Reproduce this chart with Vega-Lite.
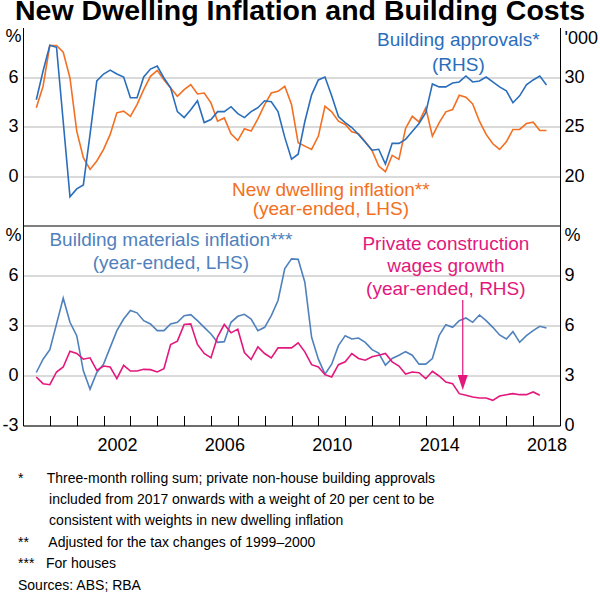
{
  "$schema": "https://vega.github.io/schema/vega-lite/v6.json",
  "padding": {"left": 1, "top": -3.5, "right": 0, "bottom": 0},
  "spacing": 0,
  "title": {"text": "New Dwelling Inflation and Building Costs", "fontSize": 28.5, "fontWeight": "bold", "font": "Liberation Sans", "anchor": "middle", "frame": "group", "baseline": "alphabetic", "offset": -20.5, "dx": 8.5, "color": "black"},
  "datasets": {
    "top": [
      {"date": "1999-07-01", "inflation": 4.13, "approvals": 27.7},
      {"date": "1999-10-01", "inflation": 5.44, "approvals": 30.6},
      {"date": "2000-01-01", "inflation": 7.91, "approvals": 33.2},
      {"date": "2000-04-01", "inflation": 7.91, "approvals": 33.0},
      {"date": "2000-07-01", "inflation": 7.51, "approvals": 25.5},
      {"date": "2000-10-01", "inflation": 5.94, "approvals": 17.9},
      {"date": "2001-01-01", "inflation": 2.72, "approvals": 18.7},
      {"date": "2001-04-01", "inflation": 1.11, "approvals": 19.1},
      {"date": "2001-07-01", "inflation": 0.40, "approvals": 24.2},
      {"date": "2001-10-01", "inflation": 0.91, "approvals": 29.6},
      {"date": "2002-01-01", "inflation": 1.61, "approvals": 30.3},
      {"date": "2002-04-01", "inflation": 2.52, "approvals": 30.7},
      {"date": "2002-07-01", "inflation": 3.83, "approvals": 30.3},
      {"date": "2002-10-01", "inflation": 3.93, "approvals": 30.0},
      {"date": "2003-01-01", "inflation": 3.62, "approvals": 27.9},
      {"date": "2003-04-01", "inflation": 4.33, "approvals": 27.9},
      {"date": "2003-07-01", "inflation": 5.23, "approvals": 30.0},
      {"date": "2003-10-01", "inflation": 6.04, "approvals": 30.8},
      {"date": "2004-01-01", "inflation": 6.40, "approvals": 31.1},
      {"date": "2004-04-01", "inflation": 5.84, "approvals": 29.9},
      {"date": "2004-07-01", "inflation": 5.34, "approvals": 28.9},
      {"date": "2004-10-01", "inflation": 4.83, "approvals": 26.5},
      {"date": "2005-01-01", "inflation": 5.23, "approvals": 25.9},
      {"date": "2005-04-01", "inflation": 5.54, "approvals": 26.7},
      {"date": "2005-07-01", "inflation": 4.97, "approvals": 27.6},
      {"date": "2005-10-01", "inflation": 5.03, "approvals": 25.4},
      {"date": "2006-01-01", "inflation": 4.43, "approvals": 25.7},
      {"date": "2006-04-01", "inflation": 3.32, "approvals": 26.5},
      {"date": "2006-07-01", "inflation": 3.52, "approvals": 26.5},
      {"date": "2006-10-01", "inflation": 2.56, "approvals": 27.0},
      {"date": "2007-01-01", "inflation": 2.15, "approvals": 26.3},
      {"date": "2007-04-01", "inflation": 2.86, "approvals": 25.9},
      {"date": "2007-07-01", "inflation": 2.72, "approvals": 26.5},
      {"date": "2007-10-01", "inflation": 3.46, "approvals": 26.9},
      {"date": "2008-01-01", "inflation": 4.33, "approvals": 27.6},
      {"date": "2008-04-01", "inflation": 5.03, "approvals": 27.5},
      {"date": "2008-07-01", "inflation": 5.13, "approvals": 26.5},
      {"date": "2008-10-01", "inflation": 5.44, "approvals": 23.9},
      {"date": "2009-01-01", "inflation": 4.33, "approvals": 21.7},
      {"date": "2009-04-01", "inflation": 2.01, "approvals": 22.2},
      {"date": "2009-07-01", "inflation": 1.81, "approvals": 25.5},
      {"date": "2009-10-01", "inflation": 1.61, "approvals": 28.2},
      {"date": "2010-01-01", "inflation": 2.42, "approvals": 29.7},
      {"date": "2010-04-01", "inflation": 4.23, "approvals": 30.0},
      {"date": "2010-07-01", "inflation": 3.89, "approvals": 28.1},
      {"date": "2010-10-01", "inflation": 3.32, "approvals": 26.0},
      {"date": "2011-01-01", "inflation": 3.12, "approvals": 25.4},
      {"date": "2011-04-01", "inflation": 2.68, "approvals": 24.9},
      {"date": "2011-07-01", "inflation": 2.56, "approvals": 24.2},
      {"date": "2011-10-01", "inflation": 2.07, "approvals": 23.4},
      {"date": "2012-01-01", "inflation": 1.55, "approvals": 22.6},
      {"date": "2012-04-01", "inflation": 0.60, "approvals": 22.7},
      {"date": "2012-07-01", "inflation": 0.26, "approvals": 21.2},
      {"date": "2012-10-01", "inflation": 1.25, "approvals": 23.3},
      {"date": "2013-01-01", "inflation": 1.01, "approvals": 23.3},
      {"date": "2013-04-01", "inflation": 2.88, "approvals": 23.7},
      {"date": "2013-07-01", "inflation": 3.62, "approvals": 24.5},
      {"date": "2013-10-01", "inflation": 3.28, "approvals": 25.3},
      {"date": "2014-01-01", "inflation": 4.13, "approvals": 26.4},
      {"date": "2014-04-01", "inflation": 2.42, "approvals": 29.3},
      {"date": "2014-07-01", "inflation": 3.22, "approvals": 29.0},
      {"date": "2014-10-01", "inflation": 3.89, "approvals": 29.0},
      {"date": "2015-01-01", "inflation": 4.03, "approvals": 29.4},
      {"date": "2015-04-01", "inflation": 4.89, "approvals": 29.5},
      {"date": "2015-07-01", "inflation": 4.77, "approvals": 30.1},
      {"date": "2015-10-01", "inflation": 4.37, "approvals": 29.5},
      {"date": "2016-01-01", "inflation": 3.32, "approvals": 29.6},
      {"date": "2016-04-01", "inflation": 2.52, "approvals": 30.0},
      {"date": "2016-07-01", "inflation": 1.95, "approvals": 29.5},
      {"date": "2016-10-01", "inflation": 1.61, "approvals": 29.0},
      {"date": "2017-01-01", "inflation": 2.07, "approvals": 28.6},
      {"date": "2017-04-01", "inflation": 2.82, "approvals": 27.4},
      {"date": "2017-07-01", "inflation": 2.82, "approvals": 28.1},
      {"date": "2017-10-01", "inflation": 3.18, "approvals": 29.2},
      {"date": "2018-01-01", "inflation": 3.26, "approvals": 29.7},
      {"date": "2018-04-01", "inflation": 2.76, "approvals": 30.1},
      {"date": "2018-07-01", "inflation": 2.76, "approvals": 29.2}
    ],
    "bottom": [
      {"date": "1999-07-01", "materials": 0.18, "wages": 2.91},
      {"date": "1999-10-01", "materials": 0.98, "wages": 2.51},
      {"date": "2000-01-01", "materials": 1.55, "wages": 2.45},
      {"date": "2000-04-01", "materials": 3.09, "wages": 3.21},
      {"date": "2000-07-01", "materials": 4.64, "wages": 3.51},
      {"date": "2000-10-01", "materials": 3.19, "wages": 4.46},
      {"date": "2001-01-01", "materials": 2.39, "wages": 4.32},
      {"date": "2001-04-01", "materials": 0.28, "wages": 3.98},
      {"date": "2001-07-01", "materials": -0.82, "wages": 4.06},
      {"date": "2001-10-01", "materials": 0.18, "wages": 3.31},
      {"date": "2002-01-01", "materials": 0.68, "wages": 3.57},
      {"date": "2002-04-01", "materials": 1.69, "wages": 3.51},
      {"date": "2002-07-01", "materials": 2.69, "wages": 2.81},
      {"date": "2002-10-01", "materials": 3.39, "wages": 3.61},
      {"date": "2003-01-01", "materials": 3.90, "wages": 3.27},
      {"date": "2003-04-01", "materials": 3.76, "wages": 3.27},
      {"date": "2003-07-01", "materials": 3.29, "wages": 3.37},
      {"date": "2003-10-01", "materials": 3.09, "wages": 3.35},
      {"date": "2004-01-01", "materials": 2.69, "wages": 3.21},
      {"date": "2004-04-01", "materials": 2.69, "wages": 3.41},
      {"date": "2004-07-01", "materials": 3.09, "wages": 4.86},
      {"date": "2004-10-01", "materials": 3.19, "wages": 5.06},
      {"date": "2005-01-01", "materials": 3.59, "wages": 6.06},
      {"date": "2005-04-01", "materials": 3.65, "wages": 6.10},
      {"date": "2005-07-01", "materials": 3.29, "wages": 4.86},
      {"date": "2005-10-01", "materials": 2.89, "wages": 4.32},
      {"date": "2006-01-01", "materials": 2.49, "wages": 4.06},
      {"date": "2006-04-01", "materials": 1.99, "wages": 5.32},
      {"date": "2006-07-01", "materials": 2.03, "wages": 6.06},
      {"date": "2006-10-01", "materials": 3.19, "wages": 5.56},
      {"date": "2007-01-01", "materials": 3.55, "wages": 5.78},
      {"date": "2007-04-01", "materials": 3.67, "wages": 4.38},
      {"date": "2007-07-01", "materials": 3.39, "wages": 3.96},
      {"date": "2007-10-01", "materials": 2.69, "wages": 4.72},
      {"date": "2008-01-01", "materials": 2.89, "wages": 4.32},
      {"date": "2008-04-01", "materials": 3.59, "wages": 4.06},
      {"date": "2008-07-01", "materials": 4.50, "wages": 4.66},
      {"date": "2008-10-01", "materials": 6.41, "wages": 4.66},
      {"date": "2009-01-01", "materials": 7.00, "wages": 4.66},
      {"date": "2009-04-01", "materials": 6.97, "wages": 4.96},
      {"date": "2009-07-01", "materials": 5.60, "wages": 4.42},
      {"date": "2009-10-01", "materials": 2.29, "wages": 3.65},
      {"date": "2010-01-01", "materials": 0.98, "wages": 3.51},
      {"date": "2010-04-01", "materials": 0.08, "wages": 3.05},
      {"date": "2010-07-01", "materials": 0.68, "wages": 2.91},
      {"date": "2010-10-01", "materials": 1.79, "wages": 3.65},
      {"date": "2011-01-01", "materials": 2.39, "wages": 3.82},
      {"date": "2011-04-01", "materials": 2.19, "wages": 4.32},
      {"date": "2011-07-01", "materials": 2.25, "wages": 4.02},
      {"date": "2011-10-01", "materials": 1.99, "wages": 3.92},
      {"date": "2012-01-01", "materials": 1.55, "wages": 4.12},
      {"date": "2012-04-01", "materials": 1.35, "wages": 4.22},
      {"date": "2012-07-01", "materials": 0.62, "wages": 4.32},
      {"date": "2012-10-01", "materials": 1.02, "wages": 3.82},
      {"date": "2013-01-01", "materials": 1.22, "wages": 3.57},
      {"date": "2013-04-01", "materials": 1.43, "wages": 3.09},
      {"date": "2013-07-01", "materials": 1.22, "wages": 3.21},
      {"date": "2013-10-01", "materials": 0.68, "wages": 3.17},
      {"date": "2014-01-01", "materials": 0.68, "wages": 2.81},
      {"date": "2014-04-01", "materials": 1.02, "wages": 3.25},
      {"date": "2014-07-01", "materials": 2.39, "wages": 2.97},
      {"date": "2014-10-01", "materials": 3.05, "wages": 2.61},
      {"date": "2015-01-01", "materials": 2.89, "wages": 2.51},
      {"date": "2015-04-01", "materials": 3.29, "wages": 1.91},
      {"date": "2015-07-01", "materials": 3.45, "wages": 1.81},
      {"date": "2015-10-01", "materials": 3.19, "wages": 1.71},
      {"date": "2016-01-01", "materials": 3.63, "wages": 1.65},
      {"date": "2016-04-01", "materials": 3.29, "wages": 1.65},
      {"date": "2016-07-01", "materials": 2.89, "wages": 1.51},
      {"date": "2016-10-01", "materials": 2.43, "wages": 1.77},
      {"date": "2017-01-01", "materials": 2.19, "wages": 1.85},
      {"date": "2017-04-01", "materials": 2.63, "wages": 1.91},
      {"date": "2017-07-01", "materials": 1.99, "wages": 1.85},
      {"date": "2017-10-01", "materials": 2.39, "wages": 1.85},
      {"date": "2018-01-01", "materials": 2.69, "wages": 2.01},
      {"date": "2018-04-01", "materials": 2.95, "wages": 1.81},
      {"date": "2018-07-01", "materials": 2.85}
    ]
  },
  "vconcat": [
    {
      "width": 537,
      "height": 198,
      "data": {"name": "top"},
      "layer": [
        {
          "layer": [
            {
              "mark": {"type": "line", "color": "#f36f21", "strokeWidth": 1.6},
              "encoding": {
                "x": {"field": "date", "type": "temporal",
                      "scale": {"type": "utc", "domain": [{"year": 1999, "month": 1, "date": 1, "utc": true}, {"year": 2019, "month": 1, "date": 1, "utc": true}]},
                      "axis": {"orient": "bottom", "labels": false, "ticks": false, "grid": false, "title": null, "domainColor": "black"}},
                "y": {"field": "inflation", "type": "quantitative",
                      "scale": {"domain": [-3, 9], "nice": false, "zero": false},
                      "axis": {"orient": "left", "values": [0, 3, 6], "grid": true, "ticks": false, "labelPadding": 5,
                               "title": "%", "titleAngle": 0, "titleX": -10, "titleY": 9, "titleAlign": "center", "titleBaseline": "middle"}}
              }
            },
            {
              "data": {"values": [{"label": "New dwelling inflation**\n(year-ended, LHS)"}]},
              "mark": {"type": "text", "color": "#f36f21", "fontSize": 19, "align": "center", "baseline": "alphabetic", "lineBreak": "\n", "lineHeight": 19.5},
              "encoding": {
                "x": {"datum": {"year": 2010, "month": 6, "date": 20, "utc": true}, "type": "temporal"},
                "y": {"datum": -1.21, "type": "quantitative"},
                "text": {"field": "label"}
              }
            },
            {
              "data": {"values": [{"label": "Building approvals*\n(RHS)"}]},
              "mark": {"type": "text", "color": "#2a6ebb", "fontSize": 19, "align": "center", "baseline": "alphabetic", "lineBreak": "\n", "lineHeight": 25},
              "encoding": {
                "x": {"datum": {"year": 2015, "month": 3, "date": 20, "utc": true}, "type": "temporal"},
                "y": {"datum": 7.85, "type": "quantitative"},
                "text": {"field": "label"}
              }
            }
          ]
        },
        {
          "layer": [
            {
              "mark": {"type": "line", "color": "#2a6ebb", "strokeWidth": 1.6},
              "encoding": {
                "x": {"field": "date", "type": "temporal"},
                "y": {"field": "approvals", "type": "quantitative",
                      "scale": {"domain": [15, 35], "nice": false, "zero": false},
                      "axis": {"orient": "right", "values": [20, 25, 30], "grid": false, "ticks": false, "labelPadding": 4,
                               "title": "'000", "titleAngle": 0, "titleX": 4, "titleY": 11, "titleAlign": "left", "titleBaseline": "middle"}}
              }
            }
          ]
        }
      ],
      "resolve": {"scale": {"y": "independent"}}
    },
    {
      "width": 537,
      "height": 200,
      "data": {"name": "bottom"},
      "title": {
        "text": [
          "*\u00a0\u00a0\u00a0\u00a0\u00a0\u00a0Three-month rolling sum; private non-house building approvals",
          "\u200b\u00a0\u00a0\u00a0\u00a0\u00a0\u00a0\u00a0\u00a0included from 2017 onwards with a weight of 20 per cent to be",
          "\u200b\u00a0\u00a0\u00a0\u00a0\u00a0\u00a0\u00a0\u00a0consistent with weights in new dwelling inflation",
          "**\u00a0\u00a0\u00a0\u00a0\u00a0Adjusted for the tax changes of 1999\u20132000",
          "***\u00a0\u00a0\u00a0For houses",
          "Sources: ABS; RBA"
        ],
        "orient": "bottom", "anchor": "start", "frame": "group", "fontSize": 14, "fontWeight": "normal", "font": "Liberation Sans",
        "lineHeight": 21.4, "baseline": "alphabetic", "offset": 28, "dx": -5, "color": "black"
      },
      "layer": [
        {
          "layer": [
            {
              "mark": {"type": "line", "color": "#4f81bd", "strokeWidth": 1.6},
              "encoding": {
                "x": {"field": "date", "type": "temporal",
                      "scale": {"type": "utc", "domain": [{"year": 1999, "month": 1, "date": 1, "utc": true}, {"year": 2019, "month": 1, "date": 1, "utc": true}]},
                      "axis": {"orient": "bottom", "tickCount": {"interval": "year", "step": 1}, "ticks": true, "tickSize": -10, "tickColor": "black",
                               "labelPadding": 21, "labelOffset": 13.4, "labelOverlap": false, "labelFlush": false, "labelBound": false,
                               "labelExpr": "utcyear(datum.value) % 4 == 2 ? utcFormat(datum.value, '%Y') : ''",
                               "grid": false, "title": null, "domainColor": "black"}},
                "y": {"field": "materials", "type": "quantitative",
                      "scale": {"domain": [-3, 9], "nice": false, "zero": false},
                      "axis": {"orient": "left", "values": [-3, 0, 3, 6], "grid": true, "ticks": false, "labelPadding": 5,
                               "labelExpr": "datum.value < 0 ? '-' + abs(datum.value) : datum.label",
                               "title": "%", "titleAngle": 0, "titleX": -10, "titleY": 9.5, "titleAlign": "center", "titleBaseline": "middle"}}
              }
            },
            {
              "data": {"values": [{"label": "Building materials inflation***\n(year-ended, LHS)"}]},
              "mark": {"type": "text", "color": "#4f81bd", "fontSize": 19, "align": "center", "baseline": "alphabetic", "lineBreak": "\n", "lineHeight": 23},
              "encoding": {
                "x": {"datum": {"year": 2004, "month": 7, "date": 5, "utc": true}, "type": "temporal"},
                "y": {"datum": 7.8, "type": "quantitative"},
                "text": {"field": "label"}
              }
            }
          ]
        },
        {
          "layer": [
            {
              "mark": {"type": "line", "color": "#e3177c", "strokeWidth": 1.6},
              "encoding": {
                "x": {"field": "date", "type": "temporal"},
                "y": {"field": "wages", "type": "quantitative",
                      "scale": {"domain": [0, 12], "nice": false, "zero": false},
                      "axis": {"orient": "right", "values": [0, 3, 6, 9], "grid": false, "ticks": false, "labelPadding": 4,
                               "title": "%", "titleAngle": 0, "titleX": 12, "titleY": 9.5, "titleAlign": "center", "titleBaseline": "middle"}}
              }
            },
            {
              "data": {"values": [{"label": "Private construction\nwages growth\n(year-ended, RHS)"}]},
              "mark": {"type": "text", "color": "#e3177c", "fontSize": 19, "align": "center", "baseline": "alphabetic", "lineBreak": "\n", "lineHeight": 22.5},
              "encoding": {
                "x": {"datum": {"year": 2014, "month": 10, "date": 1, "utc": true}, "type": "temporal"},
                "y": {"datum": 10.55, "type": "quantitative"},
                "text": {"field": "label"}
              }
            },
            {
              "data": {"values": [{"label": "arrow"}]},
              "mark": {"type": "rule", "color": "#e3177c", "strokeWidth": 1.2},
              "encoding": {
                "x": {"datum": {"year": 2015, "month": 5, "date": 19, "utc": true}, "type": "temporal"},
                "y": {"datum": 7.53, "type": "quantitative"},
                "y2": {"datum": 2.7}
              }
            },
            {
              "data": {"values": [{"label": "arrowhead"}]},
              "mark": {"type": "point", "shape": "M-0.67,-1L0.67,-1L0,1Z", "size": 225, "filled": true, "color": "#e3177c", "opacity": 1, "strokeWidth": 0},
              "encoding": {
                "x": {"datum": {"year": 2015, "month": 5, "date": 19, "utc": true}, "type": "temporal"},
                "y": {"datum": 2.58, "type": "quantitative"}
              }
            }
          ]
        }
      ],
      "resolve": {"scale": {"y": "independent"}}
    }
  ],
  "config": {
    "font": "Liberation Sans",
    "view": {"stroke": null},
    "axis": {"labelFont": "Liberation Sans", "labelFontSize": 18, "labelColor": "black", "domainColor": "black", "domainWidth": 1,
             "titleFont": "Liberation Sans", "titleFontSize": 18, "titleFontWeight": "normal", "titleColor": "black",
             "gridColor": "#b5b5b5", "gridWidth": 1}
  }
}
